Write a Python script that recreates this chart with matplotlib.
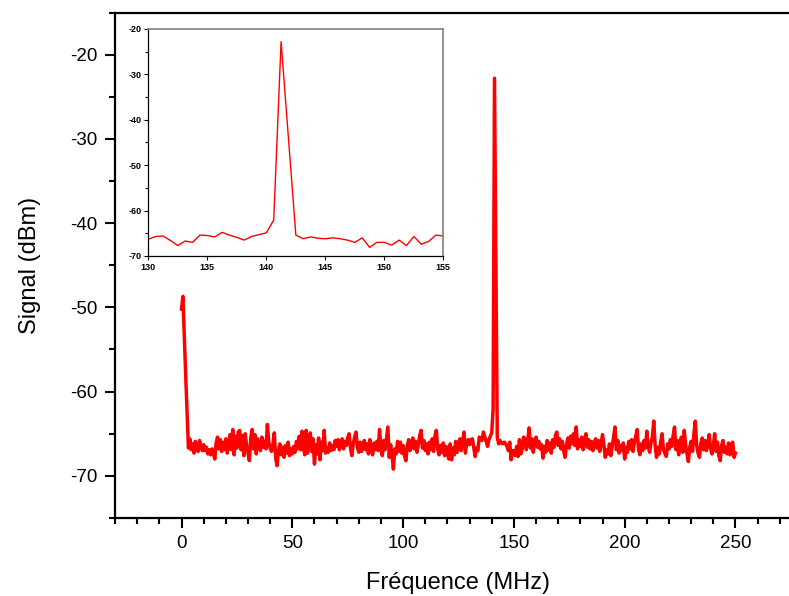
import numpy as np
import matplotlib
matplotlib.use("Agg")
import matplotlib.pyplot as plt
from matplotlib.ticker import MultipleLocator

plt.rcParams['font.family'] = ['Liberation Sans', 'DejaVu Sans']
plt.rcParams['axes.unicode_minus'] = False

# spectrum analyser trace, one point every 0.625 MHz from 0 to 250 MHz
freq_step = 0.625
signal = np.array([
    -50.2, -48.7, -53.5, -58.0, -62.5, -66.7, -65.6, -66.9, -66.2, -67.3, -65.9, -66.8, -67.1, -65.8, -66.4, -67.0,
    -66.3, -67.0, -66.6, -67.4, -66.9, -67.5, -66.8, -67.2, -68.0, -66.1, -65.4, -66.8, -65.7, -67.1, -66.0, -66.9,
    -65.6, -67.3, -66.2, -65.1, -66.9, -64.5, -67.5, -65.3, -66.7, -64.8, -64.6, -66.9, -65.2, -67.6, -65.0, -66.4,
    -67.2, -68.2, -65.5, -64.5, -66.8, -65.1, -67.4, -65.6, -66.3, -67.0, -65.4, -66.6, -65.9, -66.8, -63.9, -66.0,
    -66.7, -67.1, -66.2, -64.9, -67.9, -68.8, -67.0, -66.2, -67.5, -66.6, -67.8, -66.4, -67.3, -66.0, -67.6, -66.8,
    -67.4, -66.5, -67.2, -65.9, -66.8, -65.3, -66.9, -64.7, -66.6, -67.5, -64.6, -67.3, -65.8, -64.9, -67.1, -65.6,
    -68.6, -66.3, -67.4, -65.5, -68.1, -66.0, -67.0, -64.6, -67.3, -66.7, -67.2, -66.1, -67.0, -66.4, -66.9, -65.8,
    -66.5, -65.7, -66.9, -66.0, -65.6, -66.8, -65.9, -66.4, -65.5, -65.0, -66.7, -67.6, -66.2, -65.4, -64.8, -66.6,
    -67.2, -66.0, -67.1, -66.5, -65.8, -66.9, -66.2, -67.4, -65.7, -66.8, -67.5, -66.1, -66.9, -65.9, -67.0, -64.5,
    -66.7, -67.6, -65.8, -66.9, -65.5, -64.2, -67.8, -66.3, -67.5, -69.2, -66.8, -67.4, -65.9, -67.1, -66.0, -67.3,
    -66.4, -67.6, -68.2, -66.5, -65.7, -67.0, -66.1, -65.5, -66.8, -65.9, -67.2, -66.3, -65.2, -64.6, -66.7, -65.8,
    -67.0, -66.2, -67.4, -66.0, -66.9, -65.6, -67.1, -65.3, -64.6, -66.8, -67.5, -66.4, -67.2, -66.1, -67.6, -66.5,
    -67.3, -68.0, -66.2, -68.1, -66.7, -67.5, -65.9, -67.2, -66.4, -65.6, -67.0, -65.8, -64.8, -67.3, -66.0, -65.7,
    -66.3, -65.7, -65.6, -66.6, -67.7, -66.7, -67.0, -65.4, -65.5, -65.8, -64.8, -65.4, -65.9, -66.5, -65.7, -65.3,
    -64.9, -62.1, -22.8, -44.0, -65.4, -66.2, -65.8, -66.1, -66.2, -66.0, -66.2, -66.5, -67.0, -66.0, -68.1, -67.0,
    -67.0, -67.6, -66.5, -67.7, -65.7, -67.4, -66.8, -65.4, -65.6, -66.9, -65.8, -64.3, -66.7, -65.6, -67.2, -66.0,
    -65.4, -66.6, -65.9, -66.8, -66.3, -67.9, -66.5, -67.2, -65.8, -66.9, -66.1, -67.3, -65.7, -66.6, -65.2, -64.8,
    -66.4, -65.6, -66.8, -65.9, -67.1, -67.8, -66.3, -65.5, -66.7, -65.3, -66.2, -65.0, -66.4, -64.2, -66.8, -65.7,
    -66.5, -65.4, -66.9, -65.8, -65.0, -66.6, -65.7, -66.8, -65.9, -67.0, -66.1, -65.6, -66.7, -65.8, -67.1, -66.2,
    -65.1, -66.3, -67.8, -66.9, -67.4, -66.2, -67.6, -66.5, -65.4, -64.2, -66.9, -65.8, -67.3, -66.4, -67.0, -66.1,
    -68.0, -66.6, -67.2, -65.9, -66.8, -65.7, -67.1, -66.0, -65.3, -64.5, -66.9, -67.5, -66.2, -67.0, -65.8, -66.7,
    -64.7, -66.5, -67.2, -66.1, -65.4, -63.5, -66.4, -67.8, -66.6, -67.4, -66.0, -65.0, -66.9, -67.3, -67.7, -66.2,
    -66.8, -65.7, -66.5, -65.2, -64.2, -66.9, -65.8, -67.5, -66.0, -65.4, -67.2, -64.6, -66.3, -67.4, -68.3, -66.6,
    -65.9, -67.1, -65.0, -63.5, -66.4, -67.3, -67.8, -66.2, -65.5, -66.9, -65.8, -67.0, -66.3, -65.1, -66.7, -67.4,
    -66.5, -65.0, -67.1, -66.0, -67.6, -68.2, -66.4, -65.8, -67.2, -66.6, -67.4, -66.1, -67.5, -66.3, -66.0, -67.8,
    -67.3,
])
freq = np.arange(len(signal)) * freq_step

fig = plt.figure(figsize=(7.89, 5.96), dpi=100)

# main axes (its right side runs just past the edge of the picture)
ax = fig.add_axes([0.1458, 0.1309, 0.8706, 0.8481])
ax.plot(freq, signal, color='#ff0000', lw=2.5)
ax.set_xlim(-30, 280)
ax.set_ylim(-75, -15)
ax.xaxis.set_major_locator(MultipleLocator(50))
ax.xaxis.set_minor_locator(MultipleLocator(10))
ax.yaxis.set_major_locator(MultipleLocator(10))
ax.yaxis.set_minor_locator(MultipleLocator(5))
ax.tick_params(which='both', direction='out', width=1.5, labelsize=13.5)
ax.tick_params(which='major', length=7.5, pad=5)
ax.tick_params(which='minor', length=4)
for s in ax.spines.values():
    s.set_linewidth(1.6)
ax.set_xlabel('Fréquence (MHz)', fontsize=17, labelpad=14)
ax.set_ylabel('Signal (dBm)', fontsize=17, labelpad=21)

# inset zoom on the 141 MHz line
ins = fig.add_axes([0.188, 0.5705, 0.3739, 0.3809])
ins.plot(freq, signal, color='#ff0000', lw=1.0)
ins.set_xlim(130, 155)
ins.set_ylim(-70, -20)
ins.xaxis.set_major_locator(MultipleLocator(5))
ins.yaxis.set_major_locator(MultipleLocator(10))
ins.yaxis.set_minor_locator(MultipleLocator(5))
ins.tick_params(which='both', direction='out', width=0.8, labelsize=6.5, pad=2)
ins.tick_params(which='major', length=3)
ins.tick_params(which='minor', length=2)
for lab in ins.get_xticklabels() + ins.get_yticklabels():
    lab.set_fontweight('bold')
ins.spines['left'].set_linewidth(0.9)
ins.spines['bottom'].set_linewidth(0.9)
for side in ('top', 'right'):
    ins.spines[side].set_color('#808080')
    ins.spines[side].set_linewidth(1.2)

fig.savefig('out.png', dpi=100)
